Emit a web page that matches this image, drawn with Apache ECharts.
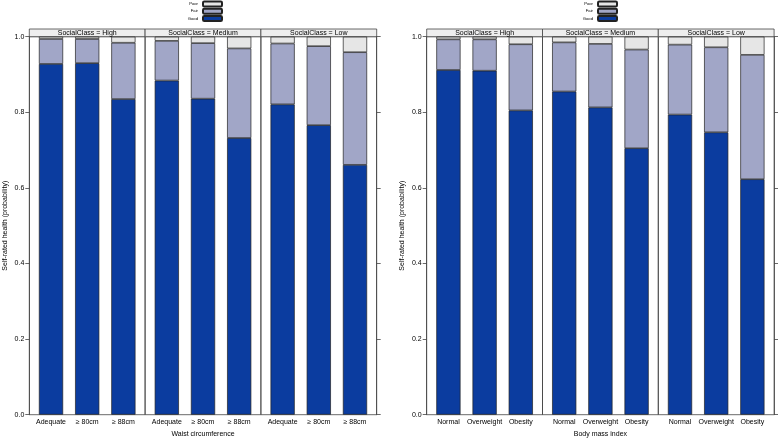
<!DOCTYPE html>
<html>
<head>
<meta charset="utf-8">
<script src="https://cdn.jsdelivr.net/npm/echarts@6/dist/echarts.min.js"></script>
<style>
html,body{margin:0;padding:0;background:#fff;}
#c{width:778px;height:438px;}
</style>
</head>
<body>
<div id="c"></div>
<script>
// ---- data ----
const socialClasses = ['High', 'Medium', 'Low'];
const waistCats = ['Adequate', '\u2265 80cm', '\u2265 88cm'];
const bmiCats = ['Normal', 'Overweight', 'Obesity'];
const levels = ['Good', 'Fair', 'Poor'];

// proportions per social class (High, Medium, Low), each over the 3 categories
const waistGood = [[0.928, 0.930, 0.835], [0.884, 0.836, 0.732], [0.821, 0.766, 0.661]];
const waistFair = [[0.066, 0.064, 0.149], [0.105, 0.147, 0.237], [0.161, 0.209, 0.298]];
const waistPoor = [[0.006, 0.006, 0.016], [0.011, 0.017, 0.031], [0.018, 0.025, 0.041]];

const bmiGood = [[0.912, 0.910, 0.805], [0.855, 0.813, 0.705], [0.794, 0.747, 0.623]];
const bmiFair = [[0.081, 0.083, 0.175], [0.130, 0.168, 0.261], [0.185, 0.225, 0.329]];
const bmiPoor = [[0.007, 0.007, 0.020], [0.015, 0.019, 0.034], [0.021, 0.028, 0.048]];

// ---- layout / style ----
const FONT = 'Liberation Sans, Arial, Helvetica, sans-serif';
const colors = {Good: '#0b3c9f', Fair: '#a1a6c7', Poor: '#e6e6e6'};
const PANEL_W = 115.8;
const TOP = 36.7, HEIGHT = 378, STRIP_H = 7.7;
const charts = [
  {left: 29.3, cats: waistCats, good: waistGood, fair: waistFair, poor: waistPoor, xTitle: 'Waist circumference', legendLeft: 182},
  {left: 426.7, cats: bmiCats, good: bmiGood, fair: bmiFair, poor: bmiPoor, xTitle: 'Body mass index', legendLeft: 577}
];

const grid = [], xAxis = [], yAxis = [], series = [], graphic = [], legend = [];
let g = 0;
charts.forEach((ch, ci) => {
  legend.push({
    data: ['Poor', 'Fair', 'Good'],
    orient: 'vertical', left: ch.legendLeft, top: 0.5, padding: 0,
    itemWidth: 19, itemHeight: 5, itemGap: 0.3, align: 'right',
    selectedMode: false,
    textStyle: {fontSize: 4.2, fontFamily: FONT, color: '#000', width: 16, align: 'left', lineHeight: 5}
  });
  for (let p = 0; p < 3; p++) {
    const left = ch.left + p * PANEL_W;
    grid.push({left: left, top: TOP, width: PANEL_W, height: HEIGHT, show: true,
      containLabel: false, outerBoundsMode: 'none',
      borderColor: '#444', borderWidth: 0.8, backgroundColor: 'transparent'});
    xAxis.push({
      type: 'value', gridIndex: g, min: 0.4, max: 3.6,
      splitLine: {show: false}, axisLine: {show: false}, axisTick: {show: false},
      axisLabel: {customValues: [1, 2, 3], formatter: v => ch.cats[Math.round(v) - 1] || '',
        fontSize: 7, fontFamily: FONT, color: '#000', margin: 4},
      name: p === 1 ? ch.xTitle : '', nameLocation: 'middle', nameGap: 15,
      nameTextStyle: {fontSize: 7, fontFamily: FONT, color: '#000'}
    });
    yAxis.push({
      type: 'value', gridIndex: g, min: 0, max: 1, interval: 0.2,
      splitLine: {show: false},
      axisLine: {show: p === 0, lineStyle: {color: '#444', width: 0.8}},
      axisTick: {show: p === 0, length: 4, lineStyle: {color: '#444', width: 0.8}},
      axisLabel: {show: p === 0, fontSize: 7, fontFamily: FONT, color: '#000', margin: 5,
        formatter: v => v.toFixed(1)},
      name: p === 0 ? 'Self-rated health (probability)' : '', nameLocation: 'middle', nameGap: 21,
      nameTextStyle: {fontSize: 7, fontFamily: FONT, color: '#000'}
    });
    if (p === 2) {
      yAxis.push({
        type: 'value', gridIndex: g, min: 0, max: 1, interval: 0.2, position: 'right',
        splitLine: {show: false},
        axisLine: {show: true, lineStyle: {color: '#444', width: 0.8}},
        axisTick: {show: true, length: 4, lineStyle: {color: '#444', width: 0.8}},
        axisLabel: {show: false}
      });
    }
    const yIdx = yAxis.length - (p === 2 ? 2 : 1);
    const vals = {Good: ch.good[p], Fair: ch.fair[p], Poor: ch.poor[p]};
    levels.forEach(lv => {
      series.push({
        type: 'bar', name: lv, xAxisIndex: g, yAxisIndex: yIdx, stack: 's' + g,
        barWidth: 24.2,
        encode: {x: 1, y: 0},
        itemStyle: {color: colors[lv], borderColor: '#222', borderWidth: 0.7},
        data: vals[lv].map((v, i) => [v, i + 1]),
        animation: false, silent: true
      });
    });
    // strip
    graphic.push({
      type: 'group', silent: true,
      children: [
        {type: 'rect', shape: {x: left, y: TOP - STRIP_H, width: PANEL_W, height: STRIP_H},
          style: {fill: '#eeeeee', stroke: '#444', lineWidth: 0.8}},
        {type: 'text', x: left + PANEL_W / 2, y: TOP - STRIP_H / 2,
          style: {text: 'SocialClass = ' + socialClasses[p], fontSize: 7, fontFamily: FONT, fill: '#000',
            align: 'center', verticalAlign: 'middle', textAlign: 'center', textVerticalAlign: 'middle'}}
      ]
    });
    g++;
  }
});

const chart = echarts.init(document.getElementById('c'), null, {renderer: 'canvas'});
chart.setOption({
  animation: false,
  backgroundColor: '#fff',
  legend, grid, xAxis, yAxis, series, graphic
});
</script>
</body>
</html>
